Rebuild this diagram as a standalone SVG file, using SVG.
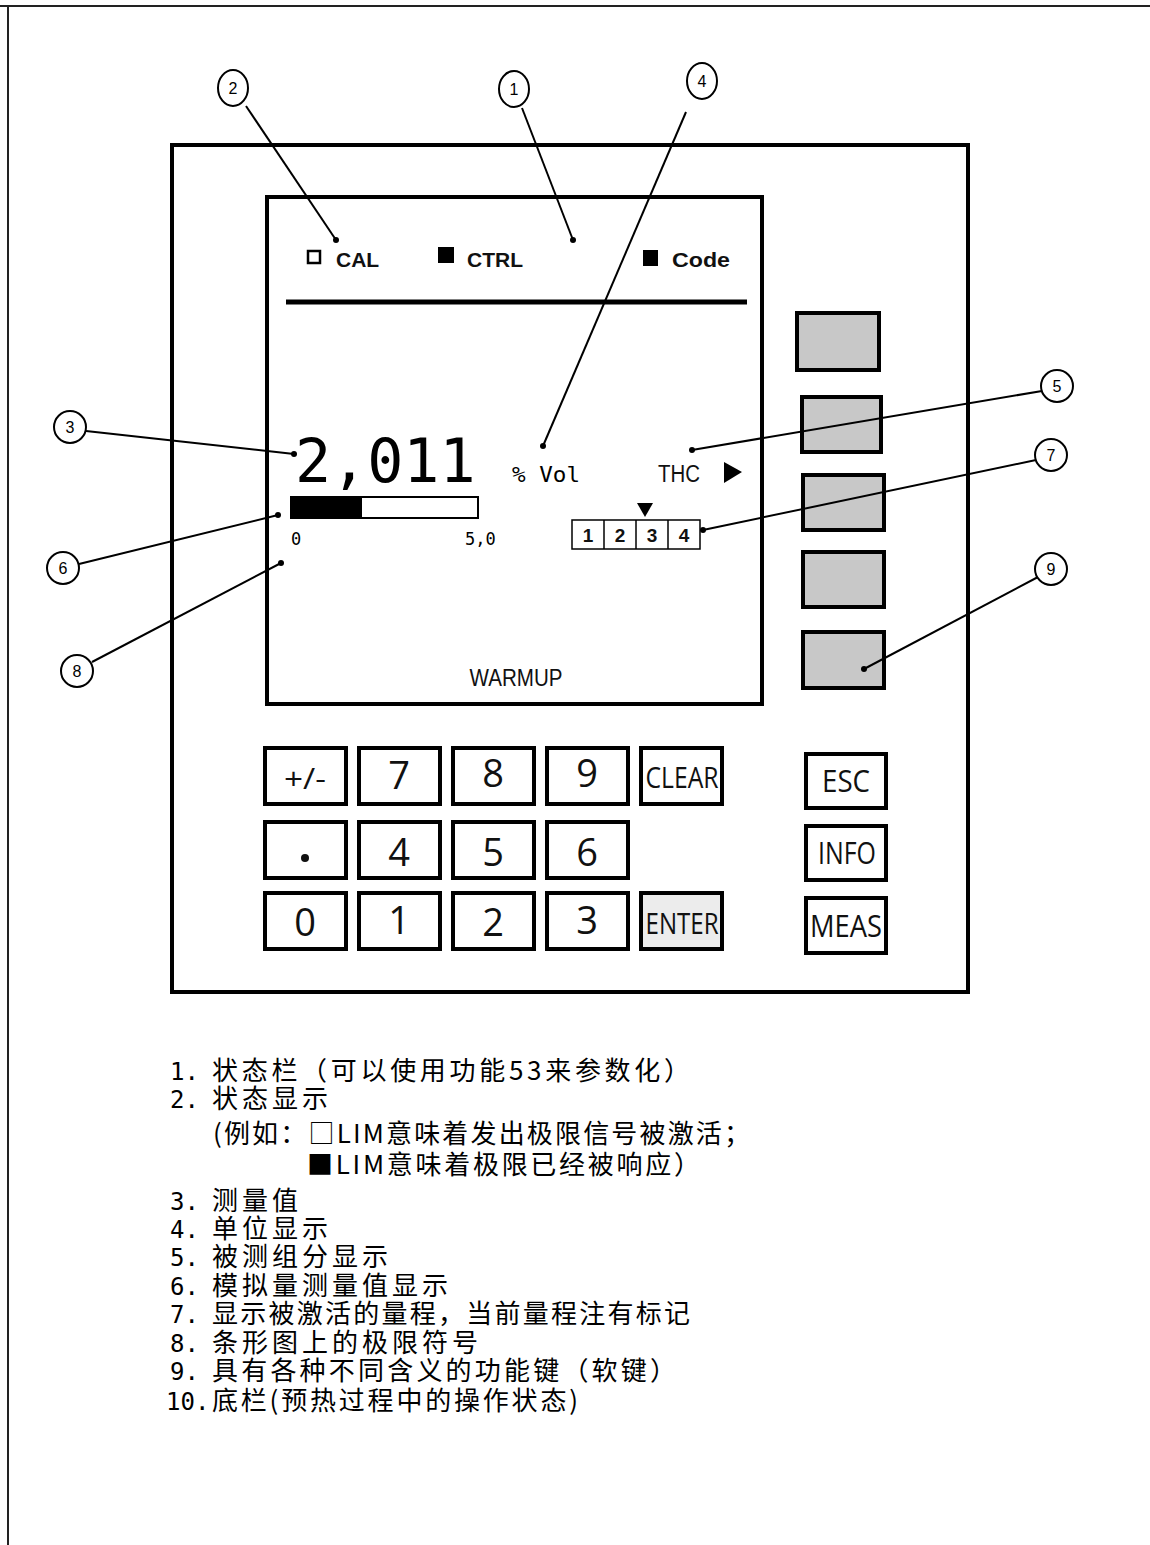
<svg xmlns="http://www.w3.org/2000/svg" width="1150" height="1545" viewBox="0 0 1150 1545">
<style>
.frame{fill:none;stroke:#222;stroke-width:2}
.panel{fill:none;stroke:#000;stroke-width:4}
.soft{fill:#c8c8c8;stroke:#000;stroke-width:4}
.key{fill:#fff;stroke:#000;stroke-width:4}
.keyg{fill:#ececec;stroke:#000;stroke-width:4}
.callc{fill:#fff;stroke:#000;stroke-width:2}
.calln{font-family:"Liberation Sans",Arial,sans-serif;font-size:16px;text-anchor:middle;fill:#000}
.lead{stroke:#000;stroke-width:2;fill:none}
.dot{fill:#000}
.stat{font-family:"Liberation Sans",Arial,sans-serif;font-weight:bold;font-size:21px;fill:#111}
.mono{font-family:"DejaVu Sans Mono","Liberation Mono",monospace;fill:#000}
.sans{font-family:"Liberation Sans",Arial,sans-serif;fill:#111}
.kt{font-family:"Open Sans","Liberation Sans",sans-serif;text-anchor:middle;fill:#111}
.leg{font-family:"Noto Sans CJK SC","Noto Sans",sans-serif;font-size:26px;fill:#000}
.legn{font-family:"DejaVu Sans Mono","Liberation Mono",monospace;font-size:24px;fill:#000}
</style>
<defs>
<marker id="dotm" viewBox="0 0 6 6" refX="3" refY="3" markerWidth="3" markerHeight="3"><circle cx="3" cy="3" r="3" fill="#000"/></marker>
</defs>

<!-- page frame lines -->
<line class="frame" x1="0" y1="6" x2="1150" y2="6"/>
<line class="frame" x1="8" y1="6" x2="8" y2="1545"/>

<g id="panel">
<rect class="panel" x="172" y="145" width="796" height="847"/>
</g>

<g id="display">
<rect class="panel" x="267" y="197" width="495" height="507"/>
<line x1="286" y1="302" x2="747" y2="302" stroke="#000" stroke-width="5"/>
<rect x="308" y="251" width="12" height="12" fill="none" stroke="#000" stroke-width="2.5"/>
<text class="stat" x="336" y="267">CAL</text>
<rect x="438" y="247" width="16" height="16" fill="#000"/>
<text class="stat" x="467" y="267">CTRL</text>
<rect x="643" y="250" width="15" height="16" fill="#000"/>
<text class="stat" x="672" y="267" textLength="58" lengthAdjust="spacingAndGlyphs">Code</text>
<text class="mono" x="295" y="482" font-size="60">2,011</text>
<text class="mono" x="512" y="482" font-size="22" textLength="68" lengthAdjust="spacingAndGlyphs">% Vol</text>
<text class="sans" x="658" y="482" font-size="23" textLength="42" lengthAdjust="spacingAndGlyphs">THC</text>
<polygon points="724,462 742,472 724,483" fill="#000"/>
<rect x="291" y="497" width="187" height="21" fill="#fff" stroke="#000" stroke-width="2"/>
<rect x="291" y="497" width="71" height="21" fill="#000"/>
<text class="mono" x="291" y="545" font-size="17">0</text>
<text class="mono" x="465" y="545" font-size="17">5,0</text>
<polygon points="637,503 653,503 645,517" fill="#000"/>
<rect x="572" y="520" width="128" height="29" fill="#fff" stroke="#000" stroke-width="1.5"/>
<line x1="604" y1="520" x2="604" y2="549" stroke="#000" stroke-width="1.5"/>
<line x1="636" y1="520" x2="636" y2="549" stroke="#000" stroke-width="1.5"/>
<line x1="668" y1="520" x2="668" y2="549" stroke="#000" stroke-width="1.5"/>
<text class="sans" x="588" y="542" font-size="19" font-weight="bold" text-anchor="middle">1</text>
<text class="sans" x="620" y="542" font-size="19" font-weight="bold" text-anchor="middle">2</text>
<text class="sans" x="652" y="542" font-size="19" font-weight="bold" text-anchor="middle">3</text>
<text class="sans" x="684" y="542" font-size="19" font-weight="bold" text-anchor="middle">4</text>
<text class="sans" x="516" y="686" font-size="23" text-anchor="middle" textLength="93" lengthAdjust="spacingAndGlyphs">WARMUP</text>
</g>

<g id="softkeys">
<rect class="soft" x="797" y="313" width="82" height="57"/>
<rect class="soft" x="802" y="397" width="79" height="55"/>
<rect class="soft" x="803" y="475" width="81" height="55"/>
<rect class="soft" x="803" y="552" width="81" height="55"/>
<rect class="soft" x="803" y="632" width="81" height="56"/>
</g>

<g id="keypad">
<rect class="key" x="265" y="748" width="81" height="56"/>
<rect class="key" x="359" y="748" width="81" height="56"/>
<rect class="key" x="453" y="748" width="81" height="56"/>
<rect class="key" x="547" y="748" width="81" height="56"/>
<rect class="key" x="641" y="748" width="81" height="56"/>
<rect class="key" x="265" y="822" width="81" height="56"/>
<rect class="key" x="359" y="822" width="81" height="56"/>
<rect class="key" x="453" y="822" width="81" height="56"/>
<rect class="key" x="547" y="822" width="81" height="56"/>
<rect class="key" x="265" y="893" width="81" height="56"/>
<rect class="key" x="359" y="893" width="81" height="56"/>
<rect class="key" x="453" y="893" width="81" height="56"/>
<rect class="key" x="547" y="893" width="81" height="56"/>
<rect class="keyg" x="641" y="893" width="81" height="56"/>
<rect class="key" x="806" y="754" width="80" height="54"/>
<rect class="key" x="806" y="826" width="80" height="54"/>
<rect class="key" x="806" y="898" width="80" height="55"/>
<text class="kt" x="305" y="789" font-size="30" textLength="42" lengthAdjust="spacingAndGlyphs">+/-</text>
<text class="kt" x="399" y="789" font-size="38">7</text>
<text class="kt" x="493" y="787" font-size="38">8</text>
<text class="kt" x="587" y="787" font-size="38">9</text>
<text class="kt" x="682" y="788" font-size="29" textLength="73" lengthAdjust="spacingAndGlyphs">CLEAR</text>
<circle cx="305" cy="858" r="4" fill="#111"/>
<text class="kt" x="399" y="866" font-size="38">4</text>
<text class="kt" x="493" y="866" font-size="38">5</text>
<text class="kt" x="587" y="866" font-size="38">6</text>
<text class="kt" x="305" y="936" font-size="38">0</text>
<text class="kt" x="399" y="934" font-size="38">1</text>
<text class="kt" x="493" y="936" font-size="38">2</text>
<text class="kt" x="587" y="934" font-size="38">3</text>
<text class="kt" x="682" y="934" font-size="29" textLength="73" lengthAdjust="spacingAndGlyphs">ENTER</text>
<text class="kt" x="846" y="792" font-size="31" textLength="48" lengthAdjust="spacingAndGlyphs">ESC</text>
<text class="kt" x="847" y="864" font-size="31" textLength="58" lengthAdjust="spacingAndGlyphs">INFO</text>
<text class="kt" x="846" y="937" font-size="31" textLength="72" lengthAdjust="spacingAndGlyphs">MEAS</text>
</g>

<g id="connectors">
<line class="lead" x1="246" y1="106" x2="336" y2="240" marker-end="url(#dotm)"/>
<line class="lead" x1="522" y1="108" x2="573" y2="240" marker-end="url(#dotm)"/>
<line class="lead" x1="686" y1="112" x2="543" y2="446" marker-end="url(#dotm)"/>
<line class="lead" x1="86" y1="431" x2="294" y2="454" marker-end="url(#dotm)"/>
<line class="lead" x1="1042" y1="391" x2="692" y2="450" marker-end="url(#dotm)"/>
<line class="lead" x1="1036" y1="460" x2="703" y2="530" marker-end="url(#dotm)"/>
<line class="lead" x1="79" y1="564" x2="278" y2="515" marker-end="url(#dotm)"/>
<line class="lead" x1="92" y1="662" x2="281" y2="563" marker-end="url(#dotm)"/>
<line class="lead" x1="1038" y1="577" x2="864" y2="669" marker-end="url(#dotm)"/>
</g>

<g id="callout-1"><ellipse class="callc" cx="514" cy="89" rx="15" ry="18"/><text class="calln" x="514" y="95">1</text></g>
<g id="callout-2"><ellipse class="callc" cx="233" cy="88" rx="15" ry="18"/><text class="calln" x="233" y="94">2</text></g>
<g id="callout-3"><circle class="callc" cx="70" cy="427" r="16"/><text class="calln" x="70" y="433">3</text></g>
<g id="callout-4"><ellipse class="callc" cx="702" cy="81" rx="15" ry="18"/><text class="calln" x="702" y="87">4</text></g>
<g id="callout-5"><circle class="callc" cx="1057" cy="386" r="16"/><text class="calln" x="1057" y="392">5</text></g>
<g id="callout-6"><circle class="callc" cx="63" cy="568" r="16"/><text class="calln" x="63" y="574">6</text></g>
<g id="callout-7"><circle class="callc" cx="1051" cy="455" r="16"/><text class="calln" x="1051" y="461">7</text></g>
<g id="callout-8"><circle class="callc" cx="77" cy="671" r="16"/><text class="calln" x="77" y="677">8</text></g>
<g id="callout-9"><circle class="callc" cx="1051" cy="569" r="16"/><text class="calln" x="1051" y="575">9</text></g>

<g id="legend">
<text class="legn" x="170" y="1080">1.</text>
<text class="leg" x="212" y="1080" textLength="478" lengthAdjust="spacing">状态栏（可以使用功能53来参数化）</text>
<text class="legn" x="170" y="1108">2.</text>
<text class="leg" x="212" y="1108" textLength="116" lengthAdjust="spacing">状态显示</text>
<text class="leg" x="213" y="1143" textLength="537" lengthAdjust="spacing">(例如：□LIM意味着发出极限信号被激活；</text>
<text class="leg" x="307" y="1174" textLength="393" lengthAdjust="spacing">■LIM意味着极限已经被响应）</text>
<text class="legn" x="170" y="1210">3.</text>
<text class="leg" x="212" y="1210" textLength="86" lengthAdjust="spacing">测量值</text>
<text class="legn" x="170" y="1238">4.</text>
<text class="leg" x="212" y="1238" textLength="116" lengthAdjust="spacing">单位显示</text>
<text class="legn" x="170" y="1266">5.</text>
<text class="leg" x="212" y="1266" textLength="176" lengthAdjust="spacing">被测组分显示</text>
<text class="legn" x="170" y="1295">6.</text>
<text class="leg" x="212" y="1295" textLength="236" lengthAdjust="spacing">模拟量测量值显示</text>
<text class="legn" x="170" y="1323">7.</text>
<text class="leg" x="212" y="1323" textLength="478" lengthAdjust="spacing">显示被激活的量程，当前量程注有标记</text>
<text class="legn" x="170" y="1352">8.</text>
<text class="leg" x="212" y="1352" textLength="266" lengthAdjust="spacing">条形图上的极限符号</text>
<text class="legn" x="170" y="1380">9.</text>
<text class="leg" x="212" y="1380" textLength="464" lengthAdjust="spacing">具有各种不同含义的功能键（软键）</text>
<text class="legn" x="166" y="1410">10.</text>
<text class="leg" x="212" y="1410" textLength="366" lengthAdjust="spacing">底栏(预热过程中的操作状态)</text>
</g>
</svg>
